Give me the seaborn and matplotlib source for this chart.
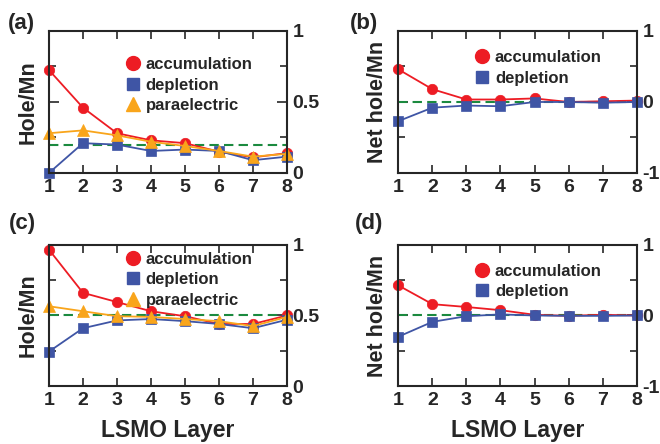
import matplotlib
matplotlib.use("Agg")
import matplotlib.pyplot as plt
from matplotlib.lines import Line2D
from matplotlib.ticker import MultipleLocator
import seaborn as sns

# ── data ─────────────────────────────────────────────────
layers = [1, 2, 3, 4, 5, 6, 7, 8]

a_acc = [0.725, 0.46, 0.28, 0.23, 0.21, 0.15, 0.11, 0.14]
a_dep = [0.0, 0.21, 0.20, 0.155, 0.165, 0.155, 0.09, 0.115]
a_para = [0.28, 0.30, 0.265, 0.22, 0.19, 0.155, 0.115, 0.135]

b_acc = [0.46, 0.18, 0.035, 0.035, 0.05, 0.0, 0.01, 0.02]
b_dep = [-0.27, -0.08, -0.05, -0.06, 0.0, 0.0, -0.01, 0.0]

c_acc = [0.965, 0.66, 0.595, 0.53, 0.495, 0.44, 0.44, 0.50]
c_dep = [0.245, 0.41, 0.465, 0.475, 0.46, 0.44, 0.41, 0.47]
c_para = [0.565, 0.53, 0.495, 0.49, 0.475, 0.46, 0.425, 0.49]

d_acc = [0.425, 0.16, 0.12, 0.075, 0.01, -0.005, 0.01, 0.0]
d_dep = [-0.30, -0.09, -0.01, 0.015, 0.0, -0.005, -0.005, 0.0]

ref_levels = {"a": 0.2, "b": 0.0, "c": 0.5, "d": 0.0}
hole_ticks = [0, 0.5, 1]
hole_labels = ["0", "0.5", "1"]
net_ticks = [-1, 0, 1]
net_labels = ["-1", "0", "1"]

# ── style ────────────────────────────────────────────────
RED = "#ED1C24"
BLUE = "#3F55A5"
ORANGE = "#F9A51B"
GREEN = "#1B8A3F"

sns.set_style("ticks")
plt.rcParams["font.family"] = ["Liberation Sans", "DejaVu Sans"]
plt.rcParams["font.weight"] = "bold"
plt.rcParams["axes.labelweight"] = "bold"
plt.rcParams["axes.linewidth"] = 1.5

STYLES = {
    "acc": dict(color=RED, marker="o", markersize=7.5, label="accumulation"),
    "dep": dict(color=BLUE, marker="s", markersize=6.5, label="depletion"),
    "para": dict(color=ORANGE, marker="^", markersize=8, label="paraelectric"),
}


def draw_series(ax, values, kind):
    st = STYLES[kind]
    sns.lineplot(x=layers, y=values, ax=ax, color=st["color"], marker=st["marker"],
                 markersize=st["markersize"], markeredgecolor=st["color"],
                 markeredgewidth=0.5, linewidth=1.3, legend=False, clip_on=False)


def style_axes(ax, ticks, labels, ylim, ylabel, xlabel=None):
    ax.set_xlim(1, 8)
    ax.set_ylim(*ylim)
    ax.set_xticks(layers)
    ax.set_yticks(ticks)
    ax.set_yticklabels(labels)
    ax.yaxis.set_minor_locator(MultipleLocator((ylim[1] - ylim[0]) / 4))
    ax.tick_params(axis="x", which="both", direction="in", top=True, bottom=True,
                   length=6, width=1.2, labelsize=14, pad=4)
    ax.tick_params(axis="y", which="major", direction="in", left=True, right=True,
                   labelleft=False, labelright=True, length=7, width=1.2,
                   labelsize=14, pad=4)
    ax.tick_params(axis="y", which="minor", direction="in", left=True, right=True,
                   length=5, width=1.2)
    for s in ax.spines.values():
        s.set_visible(True)
        s.set_linewidth(1.5)
    ax.set_ylabel(ylabel, fontsize=15.5, labelpad=4)
    if xlabel:
        ax.set_xlabel(xlabel, fontsize=16.5, labelpad=7)
    else:
        ax.set_xlabel("")


def add_legend(ax, kinds, anchor):
    handles = [Line2D([], [], linestyle="none", marker=STYLES[k]["marker"],
                      color=STYLES[k]["color"], markersize=STYLES[k]["markersize"] + 2.5,
                      label=STYLES[k]["label"]) for k in kinds]
    ax.legend(handles=handles, loc="upper left", bbox_to_anchor=anchor,
              frameon=False, fontsize=12, handlelength=0.8, handletextpad=0.35,
              labelspacing=0.33, borderpad=0, borderaxespad=0)


fig = plt.figure(figsize=(6.6, 4.44), dpi=100)
ax_a = fig.add_axes([0.0742, 0.6104, 0.3606, 0.3198])
ax_b = fig.add_axes([0.6035, 0.6104, 0.3612, 0.3198])
ax_c = fig.add_axes([0.0742, 0.1300, 0.3606, 0.3189])
ax_d = fig.add_axes([0.6035, 0.1300, 0.3612, 0.3189])

panels = [
    (ax_a, "a", {"acc": a_acc, "dep": a_dep, "para": a_para}, "hole"),
    (ax_b, "b", {"acc": b_acc, "dep": b_dep}, "net"),
    (ax_c, "c", {"acc": c_acc, "dep": c_dep, "para": c_para}, "hole"),
    (ax_d, "d", {"acc": d_acc, "dep": d_dep}, "net"),
]

for ax, key, series, kind in panels:
    ax.axhline(ref_levels[key], color=GREEN, linewidth=1.5,
               linestyle=(0, (4.5, 2.5)), zorder=1)
    for name, vals in series.items():
        draw_series(ax, vals, name)
    xlabel = "LSMO Layer" if key in ("c", "d") else None
    if kind == "hole":
        style_axes(ax, hole_ticks, hole_labels, (0, 1), "Hole/Mn", xlabel)
    else:
        style_axes(ax, net_ticks, net_labels, (-1, 1), "Net hole/Mn", xlabel)

add_legend(ax_a, ["acc", "dep", "para"], (0.325, 0.815))
add_legend(ax_b, ["acc", "dep"], (0.325, 0.865))
add_legend(ax_c, ["acc", "dep", "para"], (0.325, 0.95))
add_legend(ax_d, ["acc", "dep"], (0.325, 0.865))

for lab, (px, py) in zip(["(a)", "(b)", "(c)", "(d)"],
                         [(8, 23), (350, 23), (9, 224), (355, 224)]):
    fig.text(px / 660, 1 - py / 444, lab, fontsize=16, fontweight="bold",
             ha="left", va="center")

fig.savefig("out.png", dpi=100)
